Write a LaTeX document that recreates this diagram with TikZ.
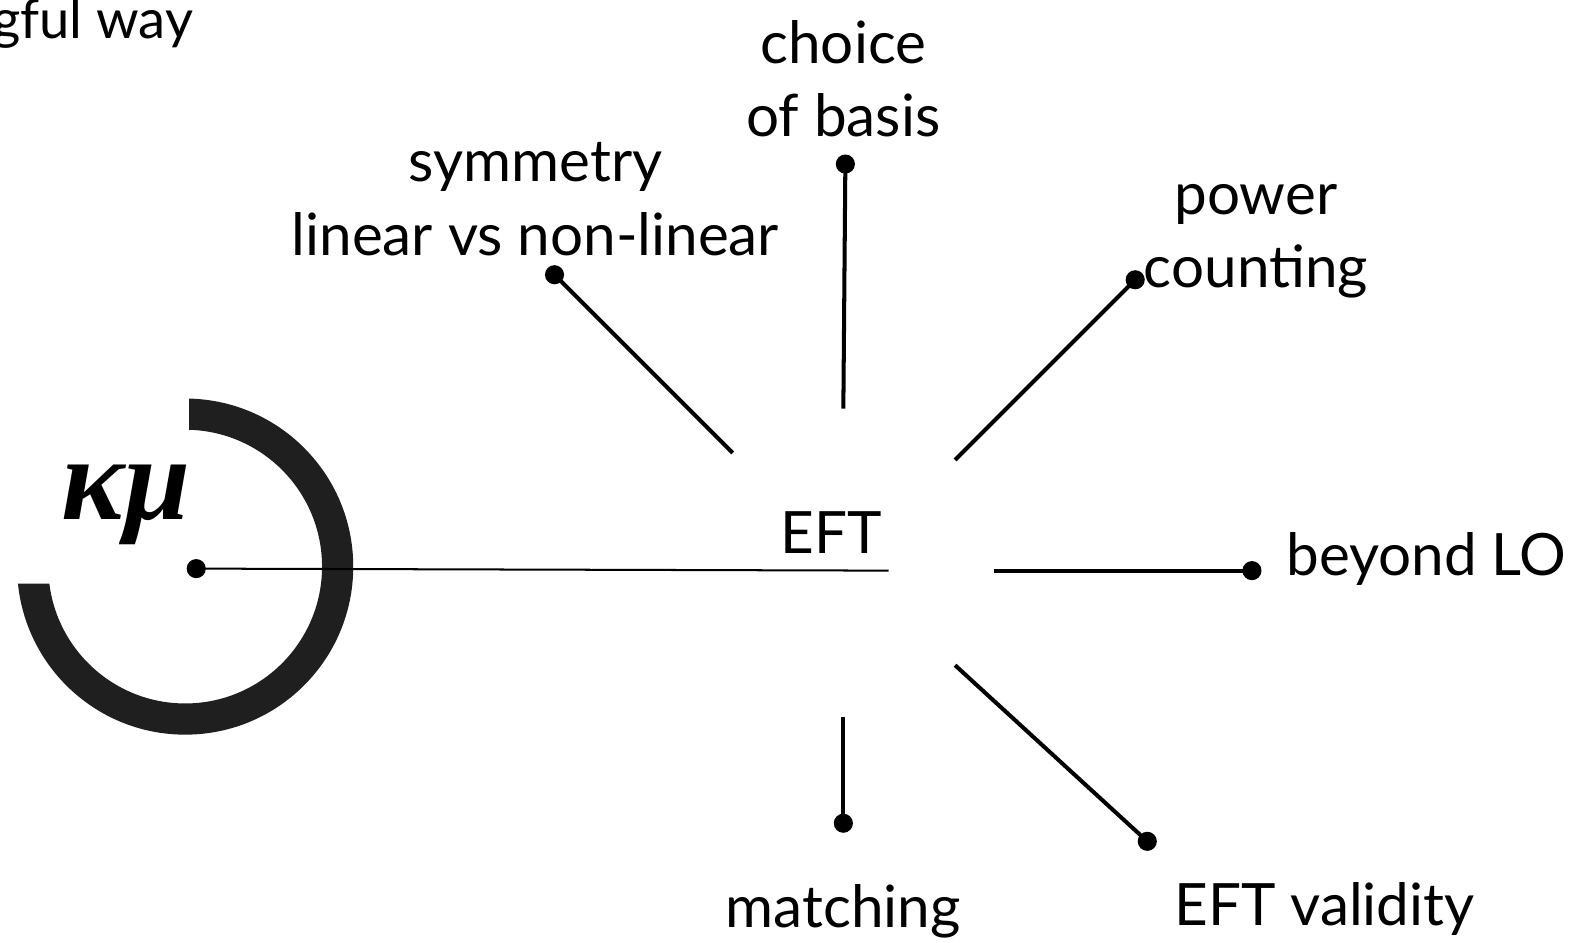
\documentclass[tikz,border=0pt]{standalone}
\usepackage{fontspec}
\setmainfont{Lato}
\newfontfamily\greekserif{Liberation Serif}
\begin{document}
\begin{tikzpicture}[x=1pt,y=1pt,
  lbl/.style={inner sep=0pt, font={\fontsize{58}{73}\selectfont}, align=center},
  spoke/.style={line width=4pt, line cap=butt},
  dotc/.style={circle, fill=black, inner sep=0pt, minimum size=19pt}]
\useasboundingbox (0,0) rectangle (1568,-937);

% ring around the scale point, open in its upper-left quarter
\begin{scope}
  \clip (188,0) -- (500,0) -- (500,-937) -- (0,-937) -- (0,-580) -- (188,-580) -- cycle;
  \draw[line width=31pt, color=black!88] (184,-563) circle[radius=151.5];
\end{scope}
\node[inner sep=0pt, anchor=base, font={\fontsize{118}{118}\greekserif\bfseries\itshape}] (km) at (125,-516) {κμ};

% scale point and the line to the EFT
\node[dotc] (mu) at (195,-565) {};
\coordinate (eftend) at (883,-567);
\draw[line width=2pt] (mu.center) -- (eftend);
\node[inner sep=0pt, anchor=base, font={\fontsize{58}{73}\selectfont}] (eft) at (826,-550) {EFT};

% spokes: inner end, outer dot
\coordinate (sU)  at (838,-406);
\coordinate (sUL) at (728,-450);
\coordinate (sUR) at (949,-457);
\coordinate (sR)  at (988,-567);
\coordinate (sDR) at (949,-661);
\coordinate (sD)  at (838,-712);

\node[dotc] (dU)  at (840,-163) {};
\node[dotc] (dUL) at (551,-273) {};
\node[dotc] (dUR) at (1128,-278) {};
\node[dotc] (dR)  at (1244,-567) {};
\node[dotc] (dDR) at (1140,-836) {};
\node[dotc] (dD)  at (838,-818) {};

\draw[spoke] (sU) -- (dU.center);
\draw[spoke] (sUL) -- (dUL.center);
\draw[spoke] (sUR) -- (dUR.center);
\draw[spoke] (sR) -- (dR.center);
\draw[spoke] (sDR) -- (dDR.center);
\draw[spoke] (sD) -- (dD.center);

% labels
\node[lbl] (tU)  at (838,-78) {choice\\of basis};
\node[lbl] (tUL) at (532,-198) {symmetry\\linear vs non-linear};
\node[lbl] (tUR) at (1248,-240) {power\\counting};
\node[lbl, anchor=base west] (tR) at (1278,-572) {beyond LO};
\node[lbl, anchor=base] (tD)  at (838,-922) {matching};
\node[lbl, anchor=base] (tDR) at (1316,-920) {EFT validity};
\node[lbl, anchor=base west, font={\fontsize{54}{66}\selectfont}] (tTL) at (-8,-38) {gful way};
\end{tikzpicture}
\end{document}
